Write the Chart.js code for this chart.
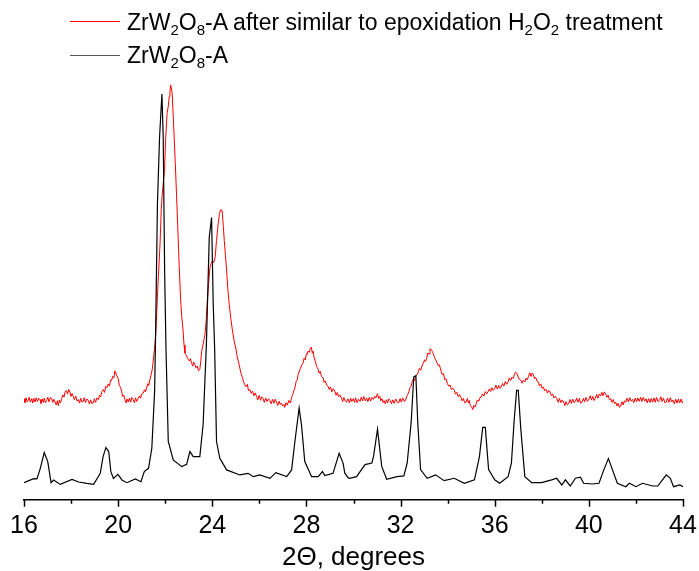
<!DOCTYPE html>
<html>
<head>
<meta charset="utf-8">
<script src="https://cdn.jsdelivr.net/npm/chart.js@4.4.1/dist/chart.umd.min.js"></script>
<style>
  html, body { margin: 0; padding: 0; background: #fff; }
  #wrap { position: relative; width: 699px; height: 571px; }
  #legend { position: absolute; left: 0; top: 0; font-family: "Liberation Sans", Arial, sans-serif; font-size: 23px; color: #000; }
  .item { position: absolute; left: 127px; line-height: 23px; white-space: nowrap; }
  .item sub { font-size: 15px; vertical-align: -5px; line-height: 0; }
  .swatch { position: absolute; left: 70px; width: 50px; height: 1px; }
</style>
</head>
<body>
<div id="wrap">
  <canvas id="xrdChart" width="699" height="571"></canvas>
  <div id="legend">
    <div class="swatch" style="top:21px;background:#ff0000"></div>
    <div class="item" style="top:11px">ZrW<sub>2</sub>O<sub>8</sub>-A after similar to epoxidation H<sub>2</sub>O<sub>2</sub> treatment</div>
    <div class="swatch" style="top:55px;background:#555"></div>
    <div class="item" style="top:44px">ZrW<sub>2</sub>O<sub>8</sub>-A</div>
  </div>
</div>
<script>
// 2theta positions and intensities (arbitrary units)
const blackX = [16.00, 16.41, 16.55, 16.69, 16.86, 17.01, 17.15, 17.26, 17.54, 18.04, 18.32, 18.67, 18.96,
  19.24, 19.36, 19.48, 19.60, 19.69, 19.80, 19.99, 20.16, 20.37, 20.73, 20.97, 21.11, 21.29, 21.43,
  21.55, 21.59, 21.67, 21.76, 21.86, 21.915, 21.975, 22.03, 22.13, 22.34, 22.70, 22.91, 23.05, 23.19,
  23.47, 23.61, 23.75, 23.87, 23.97, 24.04, 24.10, 24.18, 24.32, 24.61, 25.17, 25.52, 25.74, 26.02,
  26.45, 26.70, 27.16, 27.37, 27.51, 27.69, 27.79, 27.93, 28.22, 28.50, 28.68, 28.78, 29.13, 29.39,
  29.56, 29.63, 29.77, 29.84, 30.13, 30.49, 30.78, 30.85, 31.02, 31.20, 31.41, 31.85, 32.14, 32.28,
  32.45, 32.56, 32.65, 32.73, 32.85, 33.13, 33.49, 33.85, 34.28, 34.71, 35.14, 35.35, 35.49, 35.60,
  35.74, 36.00, 36.21, 36.57, 36.71, 36.82, 36.93, 37.00, 37.11, 37.28, 37.57, 37.99, 38.42, 38.63,
  38.85, 39.00, 39.21, 39.43, 39.64, 39.78, 40.14, 40.43, 40.64, 40.83, 41.00, 41.21, 41.57, 41.72,
  42.00, 42.28, 42.71, 42.93, 43.07, 43.29, 43.46, 43.60, 43.86, 44.00];
const blackY = [29, 33, 32.7, 43, 59, 50, 29, 31.7, 27.3, 32.3, 29.7, 28.3, 27.3,
  38.3, 55, 64, 60, 40, 33.3, 37.3, 31.7, 29, 32.7, 30, 40, 43.3, 63,
  120, 175, 307, 373, 416, 373, 240, 165, 70, 51.7, 45, 47.3, 60, 55,
  55, 86.7, 167, 273, 293, 207, 163, 70, 53.3, 41.7, 36.7, 38.3, 35, 36.7,
  33.3, 39, 35, 41.7, 70, 103.3, 86.7, 50, 35, 35, 40, 36, 38.3, 58.3,
  48.3, 38.5, 34, 33.4, 35, 47, 48.6, 55, 82.3, 45.2, 32.4, 35, 35.7, 48.4,
  89, 134.4, 135.5, 89, 42, 33.4, 36.8, 31, 33.4, 28.4, 31.8, 55, 84, 84,
  42, 31.8, 28.4, 35, 48.6, 89, 121, 121, 82, 35, 29, 29, 31.8, 33.4,
  26.7, 31.8, 25.7, 33.4, 34.5, 28.4, 27.7, 28.4, 42, 53, 42, 28.4, 25, 28.4,
  25, 28.4, 25.7, 25.7, 30, 36.8, 33.4, 25, 26.7, 25];

const redX = [16.00, 16.04, 16.09, 16.13, 16.18, 16.22, 16.27, 16.33, 16.37, 16.42, 16.47, 16.52, 16.57, 16.63,
  16.68, 16.72, 16.77, 16.82, 16.86, 16.91, 16.96, 17.01, 17.06, 17.12, 17.18, 17.22, 17.27, 17.32,
  17.37, 17.42, 17.46, 17.50, 17.55, 17.60, 17.65, 17.70, 17.75, 17.81, 17.85, 17.90, 17.95, 18.00,
  18.04, 18.09, 18.14, 18.20, 18.25, 18.31, 18.36, 18.41, 18.46, 18.52, 18.56, 18.61, 18.67, 18.73,
  18.78, 18.83, 18.88, 18.94, 18.99, 19.04, 19.10, 19.16, 19.21, 19.26, 19.31, 19.37, 19.42, 19.47,
  19.52, 19.58, 19.63, 19.68, 19.72, 19.77, 19.82, 19.86, 19.89, 19.93, 19.97, 20.00, 20.05, 20.10,
  20.15, 20.19, 20.24, 20.29, 20.34, 20.38, 20.43, 20.48, 20.53, 20.58, 20.64, 20.69, 20.74, 20.79,
  20.85, 20.90, 20.95, 21.01, 21.07, 21.12, 21.16, 21.21, 21.26, 21.30, 21.35, 21.40, 21.45, 21.49,
  21.55, 21.60, 21.69, 21.78, 21.83, 21.87, 21.92, 21.97, 22.02, 22.08, 22.13, 22.17, 22.20, 22.23,
  22.27, 22.30, 22.34, 22.38, 22.43, 22.48, 22.53, 22.58, 22.61, 22.65, 22.70, 22.76, 22.80, 22.84,
  22.88, 22.93, 22.98, 23.03, 23.07, 23.12, 23.17, 23.21, 23.26, 23.31, 23.36, 23.41, 23.47, 23.51,
  23.55, 23.62, 23.69, 23.74, 23.78, 23.84, 23.90, 23.95, 24.01, 24.06, 24.12, 24.18, 24.25, 24.30,
  24.35, 24.42, 24.47, 24.51, 24.56, 24.61, 24.66, 24.72, 24.79, 24.86, 24.93, 25.00, 25.05, 25.11,
  25.17, 25.22, 25.28, 25.33, 25.38, 25.43, 25.49, 25.54, 25.60, 25.65, 25.71, 25.77, 25.82, 25.88,
  25.93, 25.99, 26.05, 26.10, 26.16, 26.21, 26.27, 26.33, 26.39, 26.45, 26.50, 26.56, 26.62, 26.67,
  26.73, 26.78, 26.84, 26.89, 26.94, 26.99, 27.04, 27.08, 27.13, 27.19, 27.25, 27.32, 27.37, 27.42,
  27.47, 27.51, 27.56, 27.61, 27.65, 27.70, 27.75, 27.81, 27.86, 27.90, 27.95, 28.00, 28.03, 28.07,
  28.12, 28.17, 28.21, 28.25, 28.28, 28.33, 28.37, 28.42, 28.46, 28.50, 28.54, 28.59, 28.64, 28.71,
  28.75, 28.80, 28.86, 28.92, 28.97, 29.02, 29.08, 29.14, 29.21, 29.26, 29.31, 29.36, 29.42, 29.49,
  29.54, 29.59, 29.65, 29.70, 29.77, 29.83, 29.88, 29.93, 29.99, 30.04, 30.09, 30.15, 30.21, 30.28,
  30.33, 30.38, 30.44, 30.50, 30.56, 30.61, 30.67, 30.73, 30.79, 30.85, 30.90, 30.95, 31.02, 31.07,
  31.12, 31.16, 31.21, 31.26, 31.30, 31.35, 31.40, 31.45, 31.50, 31.56, 31.61, 31.67, 31.73, 31.79,
  31.86, 31.92, 31.98, 32.03, 32.09, 32.15, 32.21, 32.26, 32.30, 32.35, 32.40, 32.45, 32.49, 32.54,
  32.59, 32.64, 32.68, 32.74, 32.80, 32.86, 32.92, 32.97, 33.02, 33.06, 33.11, 33.16, 33.21, 33.25,
  33.30, 33.35, 33.39, 33.44, 33.49, 33.54, 33.60, 33.65, 33.71, 33.76, 33.82, 33.88, 33.93, 33.99,
  34.05, 34.10, 34.16, 34.22, 34.28, 34.33, 34.39, 34.45, 34.50, 34.56, 34.61, 34.67, 34.72, 34.78,
  34.84, 34.88, 34.92, 34.96, 35.02, 35.07, 35.11, 35.16, 35.21, 35.26, 35.32, 35.37, 35.42, 35.48,
  35.54, 35.60, 35.66, 35.71, 35.77, 35.83, 35.88, 35.94, 36.00, 36.05, 36.11, 36.17, 36.22, 36.28,
  36.33, 36.39, 36.45, 36.51, 36.57, 36.62, 36.68, 36.73, 36.78, 36.83, 36.88, 36.95, 36.99, 37.04,
  37.11, 37.16, 37.22, 37.28, 37.33, 37.38, 37.43, 37.49, 37.54, 37.59, 37.64, 37.69, 37.74, 37.80,
  37.85, 37.90, 37.96, 38.01, 38.07, 38.12, 38.18, 38.24, 38.30, 38.35, 38.41, 38.46, 38.52, 38.58,
  38.64, 38.70, 38.75, 38.81, 38.87, 38.93, 38.98, 39.03, 39.09, 39.14, 39.20, 39.26, 39.31, 39.37,
  39.43, 39.48, 39.54, 39.60, 39.65, 39.71, 39.77, 39.82, 39.88, 39.94, 40.00, 40.06, 40.11, 40.17,
  40.22, 40.28, 40.33, 40.39, 40.44, 40.50, 40.55, 40.60, 40.65, 40.71, 40.77, 40.82, 40.87, 40.93,
  40.98, 41.04, 41.09, 41.14, 41.20, 41.25, 41.30, 41.35, 41.41, 41.46, 41.51, 41.57, 41.62, 41.68,
  41.74, 41.80, 41.86, 41.91, 41.97, 42.03, 42.08, 42.14, 42.20, 42.25, 42.31, 42.37, 42.43, 42.48,
  42.54, 42.60, 42.65, 42.71, 42.77, 42.82, 42.88, 42.94, 43.00, 43.06, 43.11, 43.17, 43.23, 43.29,
  43.34, 43.40, 43.46, 43.52, 43.57, 43.63, 43.69, 43.75, 43.80, 43.86, 43.92, 43.97, 44.00];
const redY = [112.7, 108.8, 113.5, 109.6, 110.7, 114.0, 109.2, 112.7, 108.4, 112.9, 109.3, 113.6, 110.0, 113.1,
  111.7, 107.9, 112.4, 109.0, 113.2, 108.6, 110.7, 114.1, 109.5, 113.8, 112.7, 108.9, 112.0, 109.3,
  106.4, 110.6, 105.7, 111.2, 108.5, 112.7, 116.4, 114.1, 119.8, 120.7, 117.2, 121.9, 119.3, 114.9,
  117.8, 115.0, 111.6, 115.2, 110.4, 111.7, 108.2, 113.0, 109.4, 110.0, 113.6, 108.8, 112.4, 110.7,
  107.3, 111.5, 107.9, 108.3, 112.6, 109.0, 113.4, 111.7, 115.9, 114.6, 119.8, 121.7, 118.9, 124.8,
  123.6, 127.3, 125.1, 131.2, 130.7, 134.8, 133.5, 140.3, 139.3, 136.0, 134.5, 132.7, 126.1, 124.0,
  120.0, 114.8, 116.2, 111.7, 108.5, 112.4, 109.3, 113.2, 109.1, 113.9, 111.7, 108.6, 113.5, 109.9,
  112.7, 115.4, 113.1, 117.7, 118.3, 121.6, 119.4, 123.3, 127.6, 125.8, 131.7, 136.4, 142.0, 150,
  163, 178, 225, 266.7, 300, 315, 328, 340, 372, 396.7, 404, 413.3, 418, 425,
  421, 415, 395, 373.3, 346, 316.7, 285, 253.3, 236, 213.3, 195, 180, 166, 158,
  156.3, 154.0, 151.7, 150.2, 152.6, 148.3, 145.1, 149.0, 146.7, 143.5, 145.2, 140.4, 141.7, 150,
  160, 168, 176.7, 190, 206.7, 226, 243.3, 247, 250, 248, 253.3, 270, 286.7, 296,
  300.7, 300, 284, 270, 255, 240, 222, 206.7, 192, 180, 170, 163, 155.4, 149.6,
  143.3, 138.0, 133.7, 129.2, 126.7, 124.5, 126.9, 120.6, 121.7, 118.0, 120.1, 115.6, 118.4, 115.0,
  111.4, 115.8, 111.1, 114.6, 112.7, 109.0, 113.4, 109.7, 112.5, 110.7, 107.6, 111.9, 108.1, 112.2,
  109.3, 105.9, 110.1, 106.8, 108.3, 105.5, 106.9, 104.0, 108.6, 106.2, 110.9, 108.3, 113.7, 117.0,
  120.8, 123.3, 129.5, 131.4, 136.7, 140.2, 143.0, 146.5, 148.3, 152.9, 151.2, 157.4, 156.7, 160.1,
  158.8, 162.7, 164.0, 158.0, 160, 153.2, 150.4, 146.0, 143.7, 141.7, 138.0, 139.9, 134.6, 133.3,
  129.0, 130.4, 126.2, 125, 121.8, 124.3, 119.5, 122.6, 120, 116.1, 118.8, 114.7, 116.5, 113.3,
  109.8, 113.9, 110.2, 109.2, 112.5, 108.6, 113.0, 109.9, 112.6, 109.0, 113.5, 108.7, 112.1, 110,
  114.2, 110.4, 114.8, 110.5, 113.2, 109.6, 114.0, 110.3, 113.9, 112, 115.0, 113.4, 117.6, 112.9,
  115.0, 110.6, 112.6, 108.8, 110.7, 107.5, 111.6, 108.4, 112.3, 110.9, 107.6, 111.5, 108.0, 112.4,
  109.1, 108.5, 112.8, 109.2, 113.4, 110.0, 110.9, 114.8, 116.7, 119.3, 123.8, 124.9, 129.4, 132.2,
  130.7, 135.3, 136, 138.4, 142.9, 141.0, 146.2, 148.0, 151.4, 149.8, 153, 158.2, 157.1, 162.4,
  161.6, 159.7, 157.6, 153.8, 151.3, 149.0, 145.6, 146.3, 141.2, 136.9, 137.8, 131.5, 132.6, 127.7,
  125.0, 126.3, 121.9, 123.1, 121, 117.2, 119.0, 114.6, 116.7, 114.2, 110.5, 113.0, 108.6, 109.2,
  112.8, 108.4, 110.9, 106.0, 104.3, 101.8, 105.8, 104.2, 107.5, 111.4, 109.9, 113.6, 114.2, 117.4,
  115.3, 119.7, 117.5, 119.3, 122.4, 119.8, 123.6, 120.9, 122.7, 126.0, 122.2, 125.8, 123.0, 124.3,
  127.9, 125.2, 129.8, 127.0, 129.4, 133.2, 130.8, 134.0, 132.8, 136.4, 139.0, 137.8, 134.2, 132.0,
  131.1, 128.0, 131.0, 129.4, 133.0, 131.3, 134.5, 138.5, 134.8, 138.2, 136.8, 132.5, 133.9, 130.0,
  129.4, 125.4, 127.2, 123.0, 124.3, 120.5, 122.0, 118.2, 120.9, 119.3, 115.6, 117.4, 113.3, 115.1,
  112.6, 109.0, 112.9, 108.8, 111.4, 109.2, 105.8, 109.7, 106.5, 107.5, 111.8, 108.0, 112.3, 108.6,
  110, 113.4, 109.1, 112.8, 108.2, 109.2, 113.0, 109.5, 113.8, 110.0, 112, 115.6, 111.4, 114.9,
  110.8, 113.2, 116.8, 113.0, 117.2, 115.3, 118.9, 115.6, 119.4, 117.6, 114.0, 116.2, 111.9, 112.6,
  109.0, 111.8, 107.5, 109.2, 105.4, 108.0, 104.0, 105.2, 109.6, 106.3, 110.5, 109.2, 113.1, 109.4,
  113.6, 110.1, 112, 108.7, 113.2, 109.6, 113.4, 110, 114.0, 109.8, 113.9, 110.2, 112.6, 108.4,
  112.6, 108.9, 113.0, 109.2, 113.4, 109.0, 113.8, 109.6, 110.9, 114.5, 109.8, 113.2, 108.6, 109.2,
  113.3, 108.9, 113.7, 109.5, 111.3, 107.6, 112.1, 108.2, 112.5, 108.5, 112.3, 108.4, 110];

const xTickLabels = [16, 20, 24, 28, 32, 36, 40, 44];

const toPoints = (xs, ys) => xs.map((x, i) => ({ x: x, y: ys[i] }));

// outward tick marks: long at labelled values, short halfway between
const tickMarks = {
  id: 'tickMarks',
  afterDraw(chart) {
    const xs = chart.scales.x;
    const ctx = chart.ctx;
    const y0 = chart.chartArea.bottom;
    ctx.save();
    ctx.strokeStyle = '#000';
    ctx.lineWidth = 1.5;
    ctx.beginPath();
    for (let v = xs.min; v <= xs.max; v += 2) {
      const px = Math.round(xs.getPixelForValue(v)) + 0.5;
      const len = xTickLabels.includes(v) ? 7 : 4;
      ctx.moveTo(px, y0);
      ctx.lineTo(px, y0 + len);
    }
    ctx.stroke();
    ctx.restore();
  }
};

new Chart(document.getElementById('xrdChart').getContext('2d'), {
  type: 'line',
  data: {
    datasets: [
      {
        label: 'ZrW2O8-A',
        data: toPoints(blackX, blackY),
        borderColor: '#000000',
        borderWidth: 1.2,
        pointRadius: 0,
        tension: 0
      },
      {
        label: 'ZrW2O8-A after similar to epoxidation H2O2 treatment',
        data: toPoints(redX, redY),
        borderColor: '#ff0000',
        borderWidth: 1,
        pointRadius: 0,
        tension: 0
      }
    ]
  },
  options: {
    responsive: false,
    animation: false,
    layout: { padding: { top: 80, left: 24, right: 16, bottom: 0 } },
    plugins: { legend: { display: false }, tooltip: { enabled: false } },
    scales: {
      x: {
        type: 'linear',
        min: 16,
        max: 44,
        border: { display: true, color: '#000', width: 1.5 },
        grid: { display: false },
        ticks: {
          stepSize: 4,
          padding: 7,
          color: '#000',
          font: { family: '"Liberation Sans", Arial, sans-serif', size: 25, lineHeight: 0.93 },
          maxRotation: 0,
          callback: (v) => xTickLabels.includes(v) ? String(v) : ''
        },
        // let the end labels hang into the page padding
        afterFit: (scale) => { scale.paddingLeft = 0; scale.paddingRight = 0; },
        title: {
          display: true,
          text: '2Θ, degrees',
          color: '#000',
          padding: { top: 0, bottom: 0 },
          font: { family: '"Liberation Sans", Arial, sans-serif', size: 26, lineHeight: 1 }
        }
      },
      y: {
        display: false,
        min: 12,
        max: 430
      }
    }
  },
  plugins: [tickMarks]
});
</script>
</body>
</html>
